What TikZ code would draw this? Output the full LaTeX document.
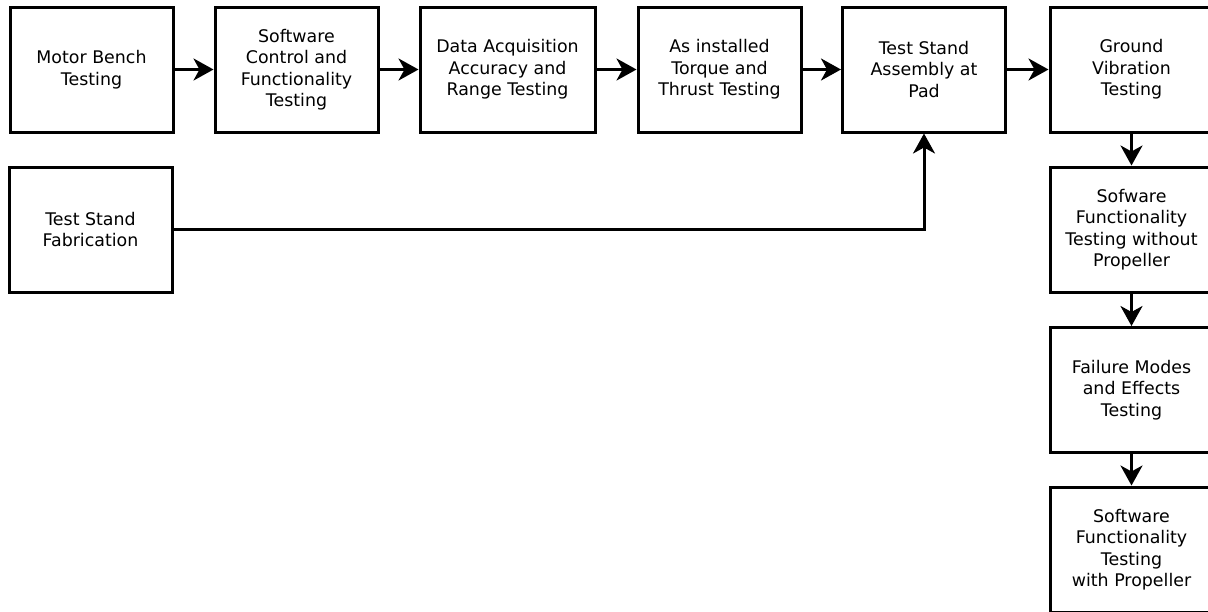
\documentclass[tikz,border=0pt]{standalone}
\usepackage{fontspec}
\setmainfont{DejaVu Sans}
\usetikzlibrary{arrows.meta}
\begin{document}
\begin{tikzpicture}[x=1pt,y=-1pt,
  stagebox/.style={draw=black, line width=3pt, fill=white, inner sep=0pt,
    minimum width=163pt, minimum height=125pt, align=center,
    font=\fontsize{17.4pt}{21.5pt}\selectfont},
  flow/.style={line width=3pt, -{Stealth[length=20pt,width=22pt,inset=6pt]}}]
\useasboundingbox (0,0) rectangle (1208,611);
\clip (0,0) rectangle (1208,611);
% top row
\node[stagebox] (bench) at (91.5,69.5) {Motor Bench\\Testing};
\node[stagebox] (ctrl) at (296.5,69.5) {Software\\Control and\\Functionality\\Testing};
\node[stagebox, minimum width=175pt] (daq) at (507.5,69.5) {Data Acquisition\\Accuracy and\\Range Testing};
\node[stagebox] (torque) at (719.5,69.5) {As installed\\Torque and\\Thrust Testing};
\node[stagebox] (pad) at (924,69.5) {Test Stand\\Assembly at\\Pad};
\node[stagebox] (gvt) at (1131.5,69.5) {Ground\\Vibration\\Testing};
% fabrication branch
\node[stagebox] (fab) at (90.5,229.5) {Test Stand\\Fabrication};
% right column
\node[stagebox] (noprop) at (1131.5,229.5) {Sofware\\Functionality\\Testing without\\Propeller};
\node[stagebox] (fmea) at (1131.5,390) {Failure Modes\\and Effects\\Testing};
\node[stagebox] (withprop) at (1131.5,549.5) {Software\\Functionality\\Testing\\with Propeller};
% connectors
\draw[flow] (bench) -- (ctrl);
\draw[flow] (ctrl) -- (daq);
\draw[flow] (daq) -- (torque);
\draw[flow] (torque) -- (pad);
\draw[flow] (pad) -- (gvt);
\draw[flow] (fab.east) -| (pad.south);
\draw[flow] (gvt) -- (noprop);
\draw[flow] (noprop) -- (fmea);
\draw[flow] (fmea) -- (withprop);
\end{tikzpicture}
\end{document}
